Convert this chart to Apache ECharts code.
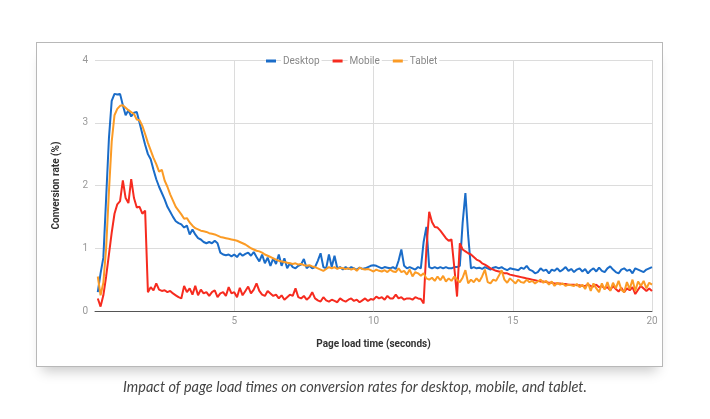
<!DOCTYPE html>
<html>
<head>
    <meta charset="UTF-8">
    <title>Page load time vs conversion rate</title>
    <script src="https://cdn.jsdelivr.net/npm/echarts@6/dist/echarts.min.js"></script>
</head>
<body style="margin: 0;overflow: hidden;background: #fff;width: 710px;height: 419px">
<div id="box" style="position: absolute;left: 36px;top: 42px;width: 625px;height: 323px;border: 1px solid #b8b8b8;background: #fff;box-shadow: 0 10px 12px -6px rgba(0,0,0,0.22)"></div>
<div id="chart" style="position: absolute;left: 0;top: 0;width: 710px;height: 419px"></div>
<script type="text/javascript">
    // sampled every 0.1 s, from 0.1 s to 20.0 s (one row = one second)
    var seriesNames = ['Desktop', 'Mobile', 'Tablet'];
    var yTicks = [0, 1, 2, 3, 4];
    var xTicks = [0, 5, 10, 15, 20];

    var desktop = [
        0.3, 0.6, 0.85, 1.8, 2.75, 3.35, 3.46, 3.45, 3.46, 3.28,
        3.12, 3.2, 3.1, 3.16, 3.17, 3.0, 2.82, 2.65, 2.5, 2.42,
        2.25, 2.1, 1.98, 1.88, 1.78, 1.66, 1.58, 1.5, 1.43, 1.4,
        1.38, 1.33, 1.36, 1.22, 1.3, 1.22, 1.16, 1.14, 1.1, 1.08,
        1.1, 1.08, 1.12, 1.08, 0.93, 0.9, 0.89, 0.9, 0.87, 0.9,
        0.86, 0.92, 0.88, 0.91, 0.93, 0.88, 0.94, 0.86, 0.79, 0.9,
        0.76, 0.85, 0.72, 0.84, 0.75, 0.9, 0.72, 0.84, 0.68, 0.76,
        0.7, 0.68, 0.72, 0.74, 0.83, 0.68, 0.72, 0.68, 0.7, 0.8,
        0.92, 0.7, 0.68, 0.9, 0.7, 0.88, 0.68, 0.7, 0.66, 0.7,
        0.67, 0.7, 0.68, 0.66, 0.69, 0.67, 0.68, 0.7, 0.72, 0.73,
        0.72, 0.7, 0.68, 0.7, 0.69, 0.68, 0.7, 0.67, 0.8, 0.98,
        0.72, 0.68, 0.7, 0.68, 0.66, 0.7, 0.68, 1.1, 1.34, 0.7,
        0.68, 0.7, 0.68, 0.7, 0.68, 0.7, 0.68, 0.68, 0.7, 0.7,
        0.72, 1.4, 1.88, 1.2, 0.68, 0.7, 0.68, 0.69, 0.67, 0.7,
        0.68, 0.66, 0.69, 0.7, 0.68, 0.7, 0.67, 0.65, 0.68, 0.67,
        0.66, 0.65, 0.69, 0.67, 0.72, 0.66, 0.64, 0.6, 0.62, 0.68,
        0.64, 0.66, 0.6, 0.66, 0.64, 0.68, 0.63, 0.66, 0.7, 0.64,
        0.67, 0.62, 0.66, 0.68, 0.63, 0.67, 0.6, 0.65, 0.68, 0.63,
        0.69, 0.64, 0.62, 0.68, 0.71, 0.66, 0.62, 0.6, 0.66, 0.68,
        0.64, 0.66, 0.6, 0.68, 0.66, 0.64, 0.62, 0.66, 0.68, 0.7
    ];
    var mobile = [
        0.2, 0.07, 0.25, 0.55, 0.9, 1.25, 1.55, 1.7, 1.75, 2.08,
        1.8, 1.72, 2.1, 1.8, 1.65, 1.66, 1.55, 1.6, 0.3, 0.38,
        0.33, 0.44, 0.34, 0.32, 0.33, 0.3, 0.32, 0.28, 0.25, 0.22,
        0.2, 0.4, 0.3, 0.36, 0.26, 0.4, 0.25, 0.34, 0.28, 0.3,
        0.24, 0.3, 0.33, 0.22, 0.28, 0.3, 0.24, 0.38, 0.28, 0.3,
        0.22, 0.37, 0.25, 0.32, 0.39, 0.28, 0.34, 0.44, 0.32, 0.26,
        0.24, 0.32, 0.28, 0.24, 0.26, 0.2, 0.25, 0.18, 0.22, 0.26,
        0.24, 0.36, 0.22, 0.2, 0.24, 0.18, 0.22, 0.3, 0.2, 0.17,
        0.15, 0.22, 0.17, 0.15, 0.18, 0.16, 0.14, 0.2, 0.17, 0.15,
        0.18, 0.2, 0.16, 0.18, 0.14, 0.17, 0.2, 0.16, 0.19, 0.18,
        0.23, 0.2, 0.22, 0.18, 0.24, 0.2, 0.2, 0.26, 0.2, 0.22,
        0.18, 0.2, 0.2, 0.18, 0.22, 0.2, 0.19, 0.12, 1.0, 1.58,
        1.42, 1.34, 1.33, 1.28, 1.22, 1.16, 1.12, 1.14, 0.7, 0.23,
        1.08, 0.98, 0.95, 0.92, 0.9, 0.86, 0.82, 0.8, 0.76, 0.74,
        0.71, 0.68, 0.66, 0.64, 0.63, 0.62, 0.6, 0.6, 0.58, 0.57,
        0.56, 0.55, 0.54, 0.53, 0.52, 0.51, 0.5, 0.49, 0.48, 0.47,
        0.47, 0.46, 0.45, 0.45, 0.44, 0.44, 0.44, 0.43, 0.43, 0.42,
        0.42, 0.42, 0.41, 0.41, 0.4, 0.4, 0.42, 0.4, 0.39, 0.42,
        0.38, 0.4, 0.36, 0.38, 0.33, 0.4, 0.35, 0.31, 0.37, 0.3,
        0.36, 0.33, 0.38, 0.27, 0.34, 0.4, 0.36, 0.32, 0.36, 0.32
    ];
    var tablet = [
        0.55, 0.25, 0.45, 1.0, 1.9, 2.7, 3.12, 3.22, 3.27, 3.28,
        3.24, 3.2, 3.17, 3.14, 3.05, 3.04, 2.95, 2.82, 2.68, 2.56,
        2.44, 2.34, 2.22, 2.25, 2.08, 1.98, 1.86, 1.76, 1.66, 1.6,
        1.54, 1.47, 1.48, 1.41, 1.36, 1.32, 1.3, 1.28, 1.27, 1.26,
        1.24, 1.23, 1.22, 1.2, 1.18, 1.17, 1.16, 1.15, 1.14, 1.13,
        1.12, 1.1, 1.08, 1.06, 1.03, 1.0, 0.98, 0.96, 0.95, 0.93,
        0.9, 0.88, 0.86, 0.84, 0.82, 0.8, 0.79, 0.78, 0.77, 0.76,
        0.75, 0.76, 0.74, 0.75, 0.73, 0.72, 0.73, 0.71, 0.7, 0.68,
        0.66, 0.64, 0.67, 0.7, 0.68, 0.7, 0.67, 0.69, 0.68, 0.67,
        0.68, 0.66, 0.68, 0.64, 0.69, 0.67, 0.66, 0.67, 0.65, 0.63,
        0.66, 0.64, 0.63, 0.65, 0.62, 0.66, 0.63, 0.62, 0.68, 0.62,
        0.64, 0.58, 0.66, 0.55, 0.62, 0.6, 0.56, 0.6, 0.52, 0.5,
        0.53, 0.48, 0.55, 0.49, 0.56, 0.47, 0.52, 0.48, 0.55, 0.5,
        0.46, 0.53, 0.65, 0.44, 0.5, 0.46, 0.52, 0.47, 0.55, 0.66,
        0.46, 0.44, 0.5, 0.48, 0.56, 0.65, 0.5, 0.45, 0.52, 0.48,
        0.44, 0.5, 0.46, 0.45, 0.5, 0.46, 0.48, 0.44, 0.47, 0.5,
        0.45, 0.48, 0.42, 0.47, 0.4, 0.45, 0.42, 0.44, 0.4, 0.42,
        0.41, 0.4, 0.43, 0.38, 0.42, 0.35, 0.45, 0.32, 0.44, 0.36,
        0.3, 0.44, 0.34, 0.46, 0.32, 0.45, 0.36, 0.48, 0.34, 0.3,
        0.46, 0.35, 0.5, 0.32, 0.47, 0.4, 0.48, 0.36, 0.45, 0.42
    ];
    var colors = ['#1a6cc8', '#f62b1f', '#fb9b25'];

    function pairs(values) {
        return values.map(function (v, i) {
            return [+((i + 1) * 0.1).toFixed(1), v];
        });
    }

    var chart = echarts.init(document.getElementById('chart'), null, {renderer: 'canvas'});
    var seriesData = [desktop, mobile, tablet];
    var option = {
        animation: false,
        backgroundColor: 'transparent',
        textStyle: {fontFamily: 'Roboto'},
        color: colors,
        title: {
            text: 'Impact of page load times on conversion rates for desktop, mobile, and tablet.',
            left: 'center',
            top: 380,
            padding: 0,
            textStyle: {
                fontFamily: 'Lato',
                fontStyle: 'italic',
                fontWeight: 'normal',
                fontSize: 14.5,
                color: '#444'
            }
        },
        legend: {
            left: 266,
            top: 56,
            padding: 0,
            itemWidth: 10,
            itemHeight: 3,
            itemGap: 11,
            icon: 'rect',
            data: seriesNames,
            textStyle: {
                color: '#888',
                fontSize: 10,
                backgroundColor: '#fff',
                padding: [0, 2]
            }
        },
        grid: {
            left: 95,
            right: 58,
            top: 60,
            bottom: 108
        },
        xAxis: {
            type: 'value',
            min: xTicks[0],
            max: xTicks[xTicks.length - 1],
            interval: 5,
            name: 'Page load time (seconds)',
            nameLocation: 'middle',
            nameGap: 28,
            nameTextStyle: {color: '#333', fontWeight: 'bold', fontSize: 10},
            axisLine: {lineStyle: {color: '#555', width: 1}},
            axisTick: {show: false},
            axisLabel: {
                color: '#999',
                fontSize: 10,
                margin: 5,
                formatter: function (v) {
                    return v === 0 ? '' : String(v);
                }
            },
            splitLine: {show: true, showMinLine: false, lineStyle: {color: '#dcdcdc'}}
        },
        yAxis: {
            type: 'value',
            min: yTicks[0],
            max: yTicks[yTicks.length - 1],
            interval: 1,
            name: 'Conversion rate (%)',
            nameLocation: 'middle',
            nameGap: 34,
            nameTextStyle: {color: '#333', fontWeight: 'bold', fontSize: 10},
            axisLine: {show: false},
            axisTick: {show: false},
            axisLabel: {color: '#999', fontSize: 10, margin: 7},
            splitLine: {lineStyle: {color: '#dcdcdc'}}
        },
        series: seriesNames.map(function (name, k) {
            return {
                name: name,
                type: 'line',
                showSymbol: false,
                symbol: 'none',
                data: pairs(seriesData[k]),
                lineStyle: {width: 2, color: colors[k]},
                itemStyle: {color: colors[k]}
            };
        })
    };
    chart.setOption(option);
</script>
</body>
</html>
